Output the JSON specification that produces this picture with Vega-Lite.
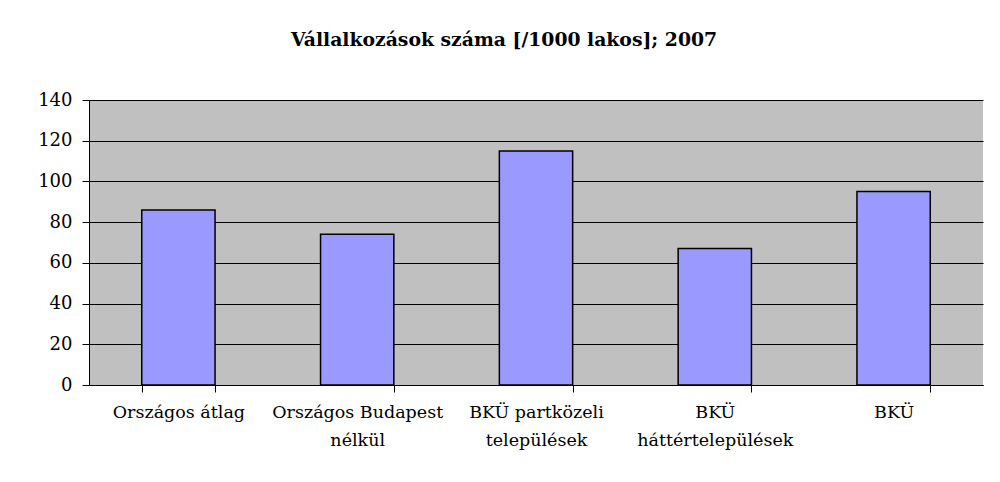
{
  "$schema": "https://vega.github.io/schema/vega-lite/v6.json",
  "width": 894,
  "height": 285,
  "autosize": {"type": "none"},
  "padding": {"left": 89, "top": 100, "right": 17, "bottom": 97},
  "background": "#FFFFFF",
  "title": {
    "text": "Vállalkozások száma [/1000 lakos]; 2007",
    "font": "DejaVu Serif",
    "fontSize": 18.8,
    "fontWeight": "bold",
    "color": "#000000",
    "anchor": "middle",
    "dx": -32,
    "offset": 41
  },
  "data": {
    "values": [
      {"kategoria": "Országos átlag", "ertek": 86},
      {"kategoria": "Országos Budapest nélkül", "ertek": 74},
      {"kategoria": "BKÜ partközeli települések", "ertek": 115},
      {"kategoria": "BKÜ háttértelepülések", "ertek": 67},
      {"kategoria": "BKÜ", "ertek": 95}
    ]
  },
  "mark": {"type": "bar", "fill": "#9999FF", "stroke": "#000000", "strokeWidth": 1.5},
  "encoding": {
    "x": {
      "field": "kategoria",
      "type": "nominal",
      "sort": null,
      "title": null,
      "scale": {"paddingInner": 0.59, "paddingOuter": 0.295},
      "axis": {
        "labelAngle": 0,
        "labelFont": "DejaVu Serif",
        "labelFontSize": 17.5,
        "labelColor": "#000000",
        "labelBaseline": "top",
        "labelPadding": 11,
        "labelLineHeight": 28,
        "labelLimit": 0,
        "tickBand": "extent",
        "tickSize": 7,
        "tickColor": "#000000",
        "domainColor": "#000000",
        "labelExpr": "datum.value == 'Országos Budapest nélkül' ? ['Országos Budapest', 'nélkül'] : datum.value == 'BKÜ partközeli települések' ? ['BKÜ partközeli', 'települések'] : datum.value == 'BKÜ háttértelepülések' ? ['BKÜ', 'háttértelepülések'] : datum.value"
      }
    },
    "y": {
      "field": "ertek",
      "type": "quantitative",
      "title": null,
      "scale": {"domain": [0, 140], "nice": false},
      "axis": {
        "values": [0, 20, 40, 60, 80, 100, 120, 140],
        "labelFont": "DejaVu Serif",
        "labelFontSize": 18,
        "labelColor": "#000000",
        "labelPadding": 10,
        "tickSize": 7,
        "tickColor": "#000000",
        "domainColor": "#000000",
        "grid": true,
        "gridColor": "#000000",
        "gridOpacity": 1,
        "gridWidth": 1
      }
    }
  },
  "config": {
    "view": {"fill": "#C0C0C0", "stroke": null}
  }
}
